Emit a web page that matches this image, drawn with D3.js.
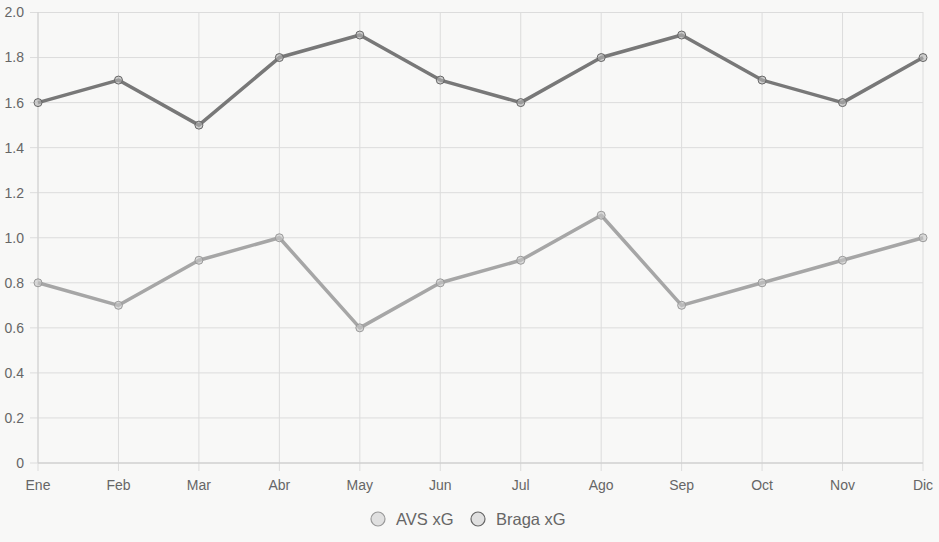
<!DOCTYPE html>
<html>
<head>
<meta charset="utf-8">
<script src="https://cdn.jsdelivr.net/npm/d3@7"></script>
<style>
  html, body { margin: 0; padding: 0; background: #f8f8f7; }
  svg { display: block; font-family: "Liberation Sans", Arial, sans-serif; }
</style>
</head>
<body>
<div id="container"></div>
<script>
const months = ['Ene', 'Feb', 'Mar', 'Abr', 'May', 'Jun', 'Jul', 'Ago', 'Sep', 'Oct', 'Nov', 'Dic'];
const avsXG = [0.8, 0.7, 0.9, 1.0, 0.6, 0.8, 0.9, 1.1, 0.7, 0.8, 0.9, 1.0];
const bragaXG = [1.6, 1.7, 1.5, 1.8, 1.9, 1.7, 1.6, 1.8, 1.9, 1.7, 1.6, 1.8];
const yTicks = [0, 0.2, 0.4, 0.6, 0.8, 1.0, 1.2, 1.4, 1.6, 1.8, 2.0];

const series = [
  { name: 'AVS xG', values: avsXG, line: '#a6a6a6', point: 'rgba(200,200,200,0.6)', pointStroke: '#999' },
  { name: 'Braga xG', values: bragaXG, line: '#787878', point: 'rgba(180,180,180,0.6)', pointStroke: '#666' }
];

const width = 939, height = 542;
const svg = d3.select('#container').append('svg')
  .attr('width', width)
  .attr('height', height);

// Scales
const x = d3.scalePoint().domain(months).range([38, 923]);
const y = d3.scaleLinear().domain([0, 2]).range([463, 12.5]);

// Grid
svg.append('g')
  .selectAll('line')
  .data(months)
  .join('line')
  .attr('x1', d => x(d)).attr('x2', d => x(d))
  .attr('y1', 12).attr('y2', 471)
  .attr('stroke', '#dcdcdc');

svg.append('g')
  .selectAll('line')
  .data(yTicks)
  .join('line')
  .attr('x1', 30).attr('x2', 923)
  .attr('y1', d => y(d)).attr('y2', d => y(d))
  .attr('stroke', '#dcdcdc');

// Axis lines
svg.append('line')
  .attr('x1', 38).attr('x2', 923)
  .attr('y1', y(0)).attr('y2', y(0))
  .attr('stroke', '#cacaca');
svg.append('line')
  .attr('x1', 38).attr('x2', 38)
  .attr('y1', 12).attr('y2', y(0))
  .attr('stroke', '#d2d2d2');

// Tick labels
svg.append('g')
  .selectAll('text')
  .data(yTicks)
  .join('text')
  .attr('x', 24)
  .attr('y', d => y(d))
  .attr('dy', '0.35em')
  .attr('text-anchor', 'end')
  .attr('font-size', 14)
  .attr('fill', '#666')
  .text(d => d === 0 ? '0' : d.toFixed(1));

svg.append('g')
  .selectAll('text')
  .data(months)
  .join('text')
  .attr('x', d => x(d))
  .attr('y', 490)
  .attr('text-anchor', 'middle')
  .attr('font-size', 14)
  .attr('fill', '#666')
  .text(d => d);

// Lines + points
const line = d3.line()
  .x((d, i) => x(months[i]))
  .y(d => y(d));

series.forEach(s => {
  svg.append('path')
    .datum(s.values)
    .attr('d', line)
    .attr('fill', 'none')
    .attr('stroke', s.line)
    .attr('stroke-width', 3.5)
    .attr('stroke-linejoin', 'round');

  svg.append('g')
    .selectAll('circle')
    .data(s.values)
    .join('circle')
    .attr('cx', (d, i) => x(months[i]))
    .attr('cy', d => y(d))
    .attr('r', 4)
    .attr('fill', s.point)
    .attr('stroke', s.pointStroke)
    .attr('stroke-width', 1);
});

// Legend
const legend = svg.append('g');
const legendX = [378, 478];
series.forEach((s, i) => {
  legend.append('circle')
    .attr('cx', legendX[i])
    .attr('cy', 519)
    .attr('r', 7)
    .attr('fill', '#e0e0e0')
    .attr('stroke', s.pointStroke)
    .attr('stroke-width', 1.2);
  legend.append('text')
    .attr('x', legendX[i] + 18)
    .attr('y', 519)
    .attr('dy', '0.35em')
    .attr('font-size', 16.5)
    .attr('fill', '#666')
    .text(s.name);
});
</script>
</body>
</html>
